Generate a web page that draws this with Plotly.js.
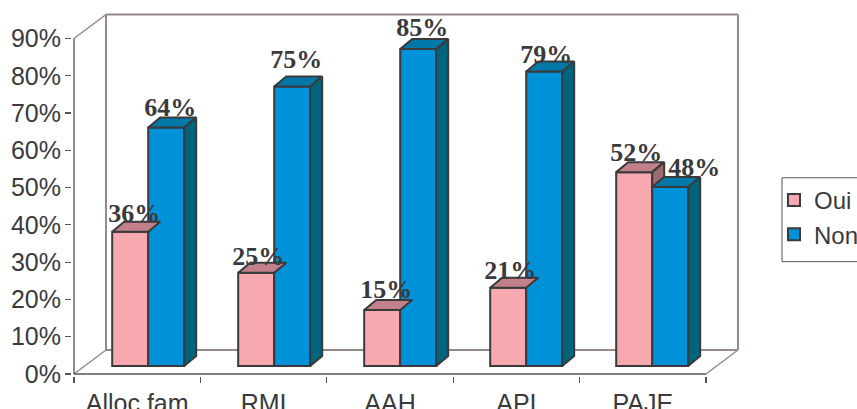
<!DOCTYPE html>
<html><head><meta charset="utf-8">
<script src="https://cdn.plot.ly/plotly-3.0.1.min.js"></script>
<style>html,body{margin:0;padding:0;background:#fff;overflow:hidden}#c{width:857px;height:409px}</style>
</head><body><div id="c"></div>
<script>
const categories = ["Alloc fam","RMI","AAH","API","PAJE"];
const oui = [36,25,15,21,52];
const non = [64,75,85,79,48];
const yTicks = [0,10,20,30,40,50,60,70,80,90];
// hand-placed label nudges of the reference, in px
const ouiLabelDx = [4,2,4,2,2],  ouiLabelDy = [3,1,6,2,5];
const nonLabelDx = [4,4,4,2,24], nonLabelDy = [5,12,7,2,5];

const UX = 126.4, UY = 3.728, PITCH = 126/126.4;
const px = v => v/UX, py = v => v/UY;
const DARK = "#3a3a3c", WALL = "#968a86";
const COL = {oui:{f:"#f8a9af",t:"#c2808a",s:"#9c6b70"}, non:{f:"#0092d9",t:"#0079a8",s:"#00647c"}};

const depthX = px(12), depthY = py(10);
const base = py(8), barW = px(36);
const ouiX = categories.map((c,i)=>i*PITCH+0.5+px(-7));
const nonX = categories.map((c,i)=>i*PITCH+0.5+px(29));

function face(name,xs,ys,fill){
  return {type:"scatter",mode:"lines",x:xs,y:ys,fill:"toself",fillcolor:fill,
    line:{color:DARK,width:2},showlegend:false,hoverinfo:"skip",name};
}
const traces = [
  {type:"bar",name:"Oui",x:ouiX,y:oui,base:base,width:barW,marker:{color:COL.oui.f,line:{color:DARK,width:2}},legendgroup:"a"},
  {type:"bar",name:"Non",x:nonX,y:non,base:base,width:barW,marker:{color:COL.non.f,line:{color:DARK,width:2}},legendgroup:"b"}
];
categories.forEach((c,i)=>{
  const ol=ouiX[i]-barW/2, or=ouiX[i]+barW/2, nr=nonX[i]+barW/2;
  const ot=oui[i]+base, nt=non[i]+base;
  traces.push(face("ot",[ol,ol+depthX,or+depthX,or,ol],[ot,ot+depthY,ot+depthY,ot,ot],COL.oui.t));
  if(oui[i]>non[i]) traces.push(face("os",[or,or+depthX,or+depthX,or,or],[ot,ot+depthY,nt+depthY,nt,ot],COL.oui.s));
  traces.push(face("nt",[or,or+depthX,nr+depthX,nr,or],[nt,nt+depthY,nt+depthY,nt,nt],COL.non.t));
  traces.push(face("ns",[nr,nr+depthX,nr+depthX,nr,nr],[nt,nt+depthY,base+depthY,base,nt],COL.non.s));
});
traces.push({type:"scatter",mode:"text",showlegend:false,hoverinfo:"skip",cliponaxis:false,
  x:ouiX.map((v,i)=>v+px(ouiLabelDx[i])).concat(nonX.map((v,i)=>v+px(nonLabelDx[i]))),
  y:oui.map((v,i)=>v+base+py(ouiLabelDy[i])).concat(non.map((v,i)=>v+base+py(nonLabelDy[i]))),
  text:oui.concat(non).map(v=>v+"%"),textposition:"top center",
  textfont:{family:"Liberation Serif",size:26,color:DARK,weight:"bold"}});

const wx=px(32), wy=py(24), wallTop=90+wy;
function ln(x0,y0,x1,y1,color,w){return {type:"line",xref:"x",yref:"y",x0,y0,x1,y1,layer:"below",line:{color,width:w||1.5}};}
const L=72,R=115,T=11,B=32.5;
const shapes=[
  ln(wx,wy,wx,wallTop,WALL,2), ln(wx,wallTop,5+wx,wallTop,WALL,2), ln(5+wx,wy,5+wx,wallTop,WALL,2),
  ln(wx,wy,5+wx,wy,WALL,2), ln(0,0,wx,wy,WALL,1.5), ln(5,0,5+wx,wy,WALL,1.5), ln(0,90,wx,wallTop,WALL,1.5),
  ln(0,0,0,90,"#6a6462",1.5), ln(0,0,5,0,"#555555",1.5),
  {type:"rect",xref:"paper",yref:"paper",layer:"above",
    x0:(782-L)/(857-L-R),x1:(900-L)/(857-L-R),
    y0:(409-B-262)/(409-T-B),y1:(409-B-178)/(409-T-B),
    line:{color:"#555",width:1},fillcolor:"rgba(0,0,0,0)"}
];
const layout={
  width:857,height:409,paper_bgcolor:"#fff",plot_bgcolor:"rgba(0,0,0,0)",
  margin:{l:L,r:R,t:T,b:B,pad:0},
  barmode:"overlay",
  font:{family:"Liberation Sans",size:24,color:DARK},
  xaxis:{type:"linear",range:[px(-2),5+px(36)],tickmode:"array",
    tickvals:categories.map((c,i)=>i+0.5),ticktext:categories,
    ticks:"outside",ticklen:5,tickcolor:"rgba(0,0,0,0)",showgrid:false,zeroline:false,showline:false,
    minor:{tickmode:"array",tickvals:[0,1,2,3,4,5],ticks:"outside",ticklen:6,tickcolor:"#555",tickwidth:1.2,showgrid:false},
    tickfont:{family:"Liberation Sans",size:25,color:DARK}},
  yaxis:{type:"linear",range:[py(-2),(374-T)/UY],tickmode:"array",tickvals:yTicks,
    ticktext:yTicks.map(v=>v+"%"),ticks:"outside",ticklen:6,tickcolor:"#555",tickwidth:1.2,
    showgrid:false,zeroline:false,showline:false,ticklabelstandoff:-1,
    tickfont:{family:"Liberation Sans",size:25,color:DARK}},
  legend:{xref:"container",yref:"container",x:774/857,xanchor:"left",y:1-178/409,yanchor:"top",
    bgcolor:"rgba(0,0,0,0)",borderwidth:0,traceorder:"normal",tracegroupgap:12,
    font:{family:"Liberation Sans",size:24,color:DARK}},
  shapes:shapes
};
Plotly.newPlot("c",traces,layout,{displayModeBar:false,staticPlot:true});
</script></body></html>
